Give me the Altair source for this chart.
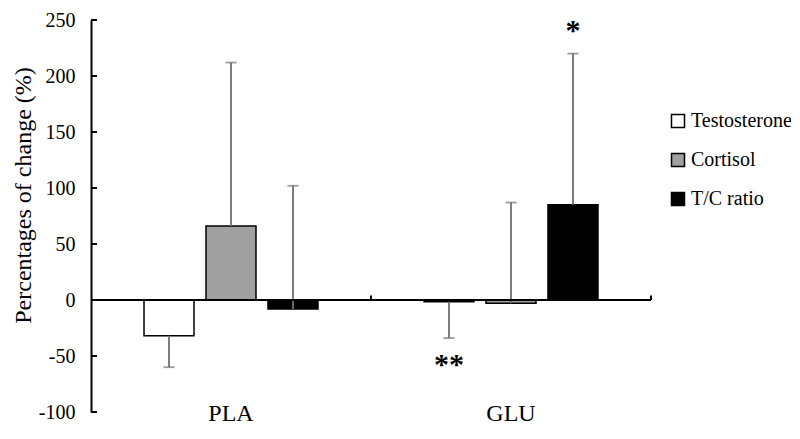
import altair as alt
import pandas as pd

groups = ["PLA", "GLU"]
hormones = ["Testosterone", "Cortisol", "T/C ratio"]
colors = ["#ffffff", "#a0a0a0", "#000000"]

mean_pla = [-32, 66, -8]
mean_glu = [-1.5, -3, 85]
err_end_pla = [-60, 212, 102]
err_end_glu = [-34, 87, 220]

y_ticks = [-100, -50, 0, 50, 100, 150, 200, 250]

sig_group = ["GLU", "GLU"]
sig_hormone = ["T/C ratio", "Testosterone"]
sig_value = [235, -63]
sig_label = ["*", "**"]

rows = []
for g, means, ends in [("PLA", mean_pla, err_end_pla), ("GLU", mean_glu, err_end_glu)]:
    for h, m, e in zip(hormones, means, ends):
        rows.append({"group": g, "hormone": h, "mean": m, "end": e})
df = pd.DataFrame(rows)
sig_df = pd.DataFrame({"group": sig_group, "hormone": sig_hormone, "y": sig_value, "label": sig_label})
tick_df = pd.DataFrame({"v": y_ticks})
cat_df = pd.DataFrame({"group": groups})

FONT = "Liberation Serif"

xscale = alt.Scale(domain=groups, paddingInner=0, paddingOuter=0)
xenc = alt.X("group:N", scale=xscale, axis=None)
xoff = alt.XOffset("hormone:N", scale=alt.Scale(domain=hormones, paddingInner=0.1935, paddingOuter=0.855))
yscale = alt.Scale(domain=[-100, 250], nice=False)
yaxis = alt.Axis(values=y_ticks, labelExpr="datum.value + ''", ticks=False, grid=False,
                 domainColor="black", domainWidth=2, labelPadding=16,
                 title="Percentages of change (%)", titlePadding=3, titleY=175)

base = alt.Chart(df)

bars = base.mark_bar(stroke="black", strokeWidth=1.5).encode(
    x=xenc,
    xOffset=xoff,
    y=alt.Y("mean:Q", scale=yscale, axis=yaxis),
    fill=alt.Fill("hormone:N", scale=alt.Scale(domain=hormones, range=colors),
                  legend=alt.Legend(title=None, orient="none", legendX=577, legendY=91,
                                    symbolType="square", symbolSize=169, symbolStrokeColor="black",
                                    symbolStrokeWidth=1.5, rowPadding=19, labelOffset=3)),
)

err = base.mark_rule(color="#707070", strokeWidth=1.8).encode(
    x=xenc, xOffset=xoff, y=alt.Y("mean:Q", axis=yaxis), y2="end:Q"
)
caps = base.mark_tick(color="#707070", thickness=1.8, size=11, orient="horizontal").encode(
    x=xenc, xOffset=xoff, y=alt.Y("end:Q", axis=yaxis)
)

zero = alt.Chart(cat_df).mark_rule(color="black", strokeWidth=2).encode(y=alt.Y(datum=0, axis=yaxis))

bticks0 = alt.Chart(pd.DataFrame({"group": ["GLU"]})).mark_rule(color="black", strokeWidth=2).encode(
    x=alt.X("group:N", bandPosition=0, scale=xscale, axis=None),
    y=alt.Y(datum=0, axis=yaxis), y2=alt.datum(4),
)
bticks1 = alt.Chart(pd.DataFrame({"group": ["GLU"]})).mark_rule(color="black", strokeWidth=2).encode(
    x=alt.X("group:N", bandPosition=1, scale=xscale, axis=None),
    y=alt.Y(datum=0, axis=yaxis), y2=alt.datum(4),
)

yt = alt.Chart(tick_df).mark_rule(color="black", strokeWidth=2).encode(
    y=alt.Y("v:Q", axis=yaxis), x=alt.value(0), x2=alt.value(6)
)

sig = alt.Chart(sig_df).mark_text(font=FONT, fontSize=30, fontWeight="bold", color="black",
                                  baseline="middle", dy=-6).encode(
    x=xenc, xOffset=xoff, y=alt.Y("y:Q", axis=yaxis), text="label:N"
)

cats = alt.Chart(cat_df).mark_text(font=FONT, fontSize=24, color="black", baseline="middle", dy=2).encode(
    x=xenc, y=alt.Y(datum=-100, axis=yaxis), text="group:N"
)

chart = alt.layer(bars, err, caps, zero, bticks0, bticks1, yt, sig, cats).properties(
    width=560, height=392,
    padding={"left": 83, "top": 12, "right": 140, "bottom": 14},
    autosize=alt.AutoSizeParams(type="none"),
    background="white",
).configure_view(stroke=None).configure_axis(
    labelFont=FONT, labelFontSize=20, labelColor="black",
    titleFont=FONT, titleFontSize=24, titleFontWeight="normal", titleColor="black",
).configure_legend(
    labelFont=FONT, labelFontSize=20, labelColor="black",
).configure_text(font=FONT)

chart.save("out.html", embed_options={"renderer": "svg", "actions": False})
